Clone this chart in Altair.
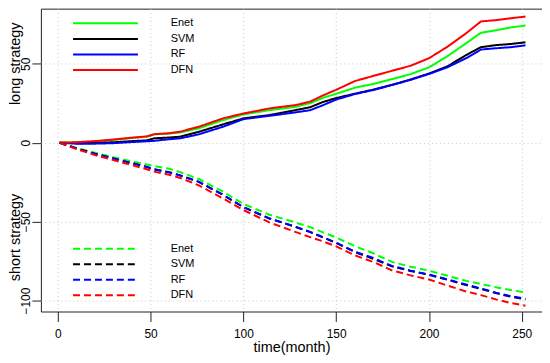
import altair as alt
import pandas as pd

FONT = "Liberation Sans"

months = [1, 10, 20, 30, 40, 48, 52, 60, 66, 76, 89, 100, 114, 128, 136, 143,
          150, 160, 170, 180, 190, 200, 210, 220, 228, 236, 244, 252]
models = ["Enet", "SVM", "RF", "DFN"]
colors = ["#00ff00", "#000000", "#0000ff", "#ff0000"]

long_enet = [0, 0.3, 0.8, 1.8, 3.0, 3.8, 5.3, 5.8, 6.5, 9.1, 14.3, 17.9, 20.6, 22.7,
             25.0, 28.5, 31.0, 34.8, 37.2, 40.2, 43.4, 47.7, 54.8, 63.0, 69.6, 71.2, 73.0, 74.2]
long_svm = [0, -0.3, -0.2, 0.3, 1.0, 1.5, 2.8, 3.3, 3.8, 6.9, 11.6, 15.4, 17.5, 20.6,
            22.5, 25.8, 28.3, 31.0, 33.6, 36.6, 40.0, 43.8, 48.4, 55.5, 60.5, 61.8, 62.5, 63.6]
long_rf = [0, -0.6, -0.6, -0.3, 0.4, 0.9, 1.2, 2.2, 2.8, 5.3, 10.1, 14.9, 17.0, 19.2,
           20.6, 23.8, 27.3, 30.8, 33.4, 36.5, 39.8, 43.5, 47.8, 53.5, 59.0, 59.8, 60.5, 61.7]
long_dfn = [0, 0.3, 1.0, 2.0, 3.2, 4.0, 5.4, 6.0, 7.0, 10.1, 15.4, 18.5, 21.7, 23.8,
            26.0, 30.0, 33.5, 39.0, 42.3, 45.5, 48.7, 53.5, 60.8, 69.3, 76.8, 77.6, 78.8, 79.9]

short_enet = [0, -3.2, -6.3, -9.2, -11.8, -13.8, -14.8, -16.5, -18.6, -23.0, -31.0, -38.8,
              -45.6, -50.5, -53.5, -56.8, -60.0, -65.5, -70.0, -75.5, -78.5, -81.0, -84.3,
              -87.5, -89.5, -91.5, -93.3, -94.8]
short_svm = [0, -3.6, -7.0, -10.0, -13.0, -15.3, -16.8, -18.7, -20.7, -24.8, -33.0, -40.8,
             -48.0, -53.3, -56.6, -60.0, -63.5, -69.2, -73.5, -78.3, -81.2, -83.6, -86.8,
             -90.2, -92.5, -95.2, -97.5, -99.2]
short_rf = [0, -3.6, -7.0, -10.0, -13.0, -15.4, -16.9, -18.8, -20.8, -24.8, -33.0, -40.8,
            -47.9, -53.2, -56.5, -59.9, -63.3, -69.0, -73.0, -78.0, -81.0, -83.5, -86.6,
            -89.8, -92.3, -95.0, -97.2, -98.8]
short_dfn = [0, -4.0, -7.8, -11.0, -14.2, -16.8, -18.3, -20.3, -22.3, -27.0, -35.3, -42.6,
             -50.5, -56.5, -59.8, -62.5, -65.6, -71.3, -75.5, -80.8, -84.0, -86.6, -90.5,
             -94.2, -96.5, -99.2, -101.5, -103.2]

x_ticks = [0, 50, 100, 150, 200, 250]
y_ticks = [-100, -50, 0, 50]

series = {
    ("long", "Enet"): long_enet, ("long", "SVM"): long_svm,
    ("long", "RF"): long_rf, ("long", "DFN"): long_dfn,
    ("short", "Enet"): short_enet, ("short", "SVM"): short_svm,
    ("short", "RF"): short_rf, ("short", "DFN"): short_dfn,
}
rows = []
for (strat, model), vals in series.items():
    for m, v in zip(months, vals):
        rows.append({"month": m, "value": v, "model": model, "strategy": strat})
df = pd.DataFrame(rows)

leg = pd.DataFrame({"model": models, "row": list(range(len(models)))})

color_scale = alt.Scale(domain=models, range=colors)
xs = alt.Scale(domain=[-9.1, 260.9], nice=False, zero=False)
ys = alt.Scale(domain=[-106.9, 84.9], nice=False, zero=False)

DASH = [7, 4]


def line_layers(strat, dash):
    layers = []
    for m in models:
        layers.append(
            alt.Chart(df).transform_filter(
                (alt.datum.strategy == strat) & (alt.datum.model == m)
            ).mark_line(strokeWidth=2, strokeDash=dash).encode(
                x=alt.X("month:Q", scale=xs,
                        axis=alt.Axis(values=x_ticks, title="time(month)")),
                y=alt.Y("value:Q", scale=ys,
                        axis=alt.Axis(values=y_ticks, title=None)),
                color=alt.Color("model:N", scale=color_scale, legend=None),
                order="month:Q",
            )
        )
    return layers


def legend_layers(y0, step, dash):
    rule = alt.Chart(leg).transform_calculate(
        ly=f"{y0} - {step} * datum.row"
    ).mark_rule(strokeWidth=2, strokeDash=dash).encode(
        x=alt.value(32.3), x2=alt.value(97.4),
        y=alt.Y("ly:Q", scale=ys),
        color=alt.Color("model:N", scale=color_scale, legend=None),
    )
    txt = alt.Chart(leg).transform_calculate(
        ly=f"{y0} - {step} * datum.row"
    ).mark_text(align="left", baseline="middle", fontSize=11, font=FONT,
                color="black").encode(
        x=alt.value(130.3),
        y=alt.Y("ly:Q", scale=ys),
        text="model:N",
    )
    return [rule, txt]


long_layers = line_layers("long", [1, 0])
short_layers = line_layers("short", DASH)
leg_long = legend_layers(75.6, 9.85, [1, 0])
leg_short = legend_layers(-67.2, 9.8, DASH)

title_long = alt.Chart(leg).transform_filter(alt.datum.row == 0).mark_text(
    angle=270, fontSize=14.5, font=FONT, color="black",
    align="center", baseline="middle"
).encode(x=alt.value(-24.6), y=alt.datum(50), text=alt.value("long strategy"))
title_short = alt.Chart(leg).transform_filter(alt.datum.row == 0).mark_text(
    angle=270, fontSize=14.5, font=FONT, color="black",
    align="center", baseline="middle"
).encode(x=alt.value(-24.6), y=alt.datum(-60), text=alt.value("short strategy"))

chart = alt.layer(
    *long_layers, *short_layers, *leg_long, *leg_short, title_long, title_short
).properties(
    width=503, height=304,
    autosize=alt.AutoSizeParams(type="none"),
    padding={"left": 33, "top": 0, "right": 0, "bottom": 43},
).configure_view(
    stroke="#222222", strokeWidth=1
).configure_axis(
    domain=False,
    grid=True, gridColor="#c8c8c8", gridDash=[1, 3], gridWidth=1,
    tickColor="#222222", tickSize=9, tickWidth=1,
    labelFont=FONT, labelFontSize=12, labelColor="black",
    titleFont=FONT, titleFontSize=14.5, titleColor="black", titleFontWeight="normal",
).configure_axisX(
    labelPadding=7, titlePadding=1, tickSize=10,
).configure_axisY(
    labelAngle=270, labelAlign="center", labelBaseline="alphabetic", labelPadding=2.5,
)

chart.save("out.html", embed_options={"renderer": "svg", "actions": False})
